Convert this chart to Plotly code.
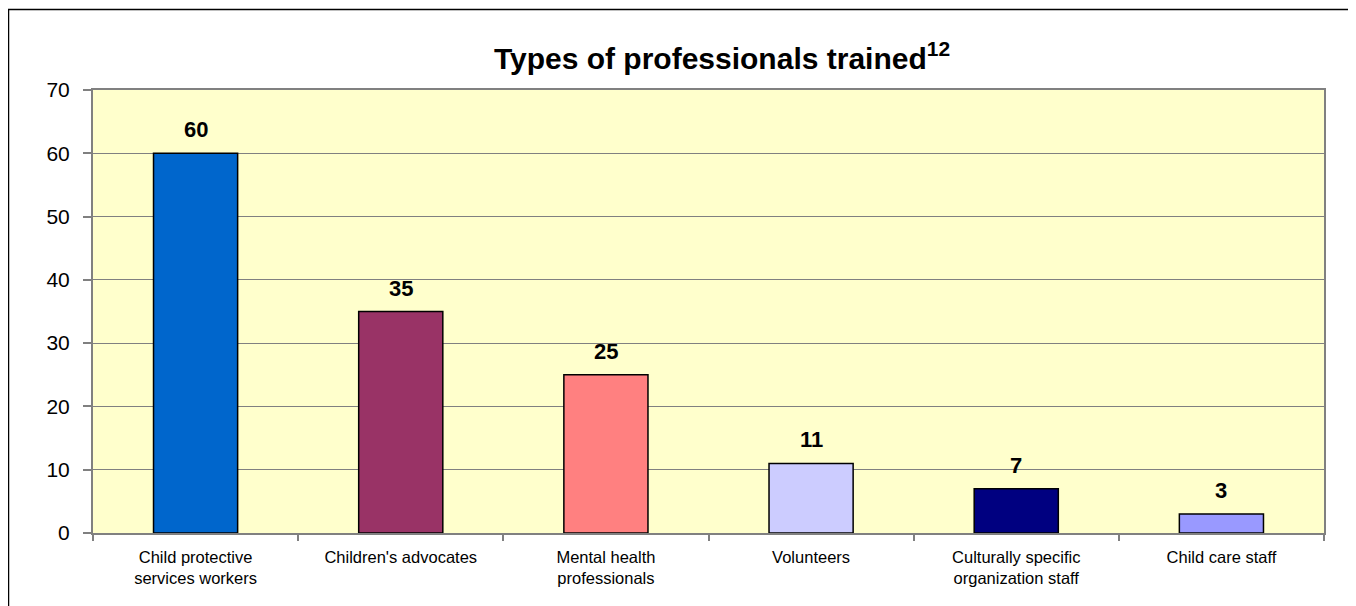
import plotly.graph_objects as go

categories = ["Child protective<br>services workers", "Children's advocates",
              "Mental health<br>professionals", "Volunteers",
              "Culturally specific<br>organization staff", "Child care staff"]
values = [60, 35, 25, 11, 7, 3]
colors = ["#0066CC", "#993366", "#FF8080", "#CCCCFF", "#000080", "#9999FF"]
y_ticks = [0, 10, 20, 30, 40, 50, 60, 70]

# page body margin of 8px is compensated
OFF = 8
W, H = 1356 - OFF, 606 - OFF
L, T = 93 - OFF, 90 - OFF
R = W - (1324 - OFF)
B = H - (533 - OFF)
pw, ph = W - L - R, H - T - B

def px_x(x):
    return (x - OFF - L) / pw

def px_y(y):
    return (H - B - (y - OFF)) / ph

FONT = "Arial, Liberation Sans"

fig = go.Figure()
fig.add_trace(go.Bar(
    x=categories, y=values,
    marker=dict(color=colors, line=dict(color="black", width=1.5)),
    hoverinfo="x+y",
))

annotations = []
for c, v in zip(categories, values):
    annotations.append(dict(
        x=c, y=v, xref="x", yref="y", text=f"<b>{v}</b>", showarrow=False,
        yanchor="bottom", yshift=9,
        font=dict(family=FONT, size=22, color="black"),
    ))

fig.update_layout(
    width=W, height=H,
    margin=dict(l=L, r=R, t=T, b=B),
    paper_bgcolor="white", plot_bgcolor="#FFFFCC",
    bargap=0.59,
    showlegend=False,
    font=dict(family=FONT, color="black"),
    title=dict(text="<b>Types of professionals trained<sup>12</sup></b>",
               x=px_x(722), xref="paper", xanchor="center",
               y=1 - (58 - OFF) / H, yanchor="middle",
               font=dict(size=30, family=FONT, color="black")),
    xaxis=dict(showline=True, linecolor="#808080", linewidth=2, mirror=True,
               ticks="outside", tickson="boundaries", ticklen=6, tickcolor="#808080",
               tickwidth=1.5, tickfont=dict(size=16.5), showgrid=False,
               ticklabelstandoff=8),
    yaxis=dict(range=[0, 70], tickvals=y_ticks, showline=True, linecolor="#808080",
               linewidth=2, mirror=True, ticks="outside", ticklen=8,
               tickcolor="#808080", tickwidth=1.5, showgrid=True,
               gridcolor="#808080", gridwidth=1, tickfont=dict(size=21),
               zeroline=False, ticklabelstandoff=9),
    annotations=annotations,
    shapes=[
        dict(type="line", xref="paper", yref="paper", x0=px_x(8), x1=px_x(1400),
             y0=px_y(9.5), y1=px_y(9.5), line=dict(color="black", width=1.5)),
        dict(type="line", xref="paper", yref="paper", x0=px_x(8.5), x1=px_x(8.5),
             y0=px_y(9.5), y1=px_y(650), line=dict(color="black", width=1.5)),
    ],
)

fig.write_html("out.html")
